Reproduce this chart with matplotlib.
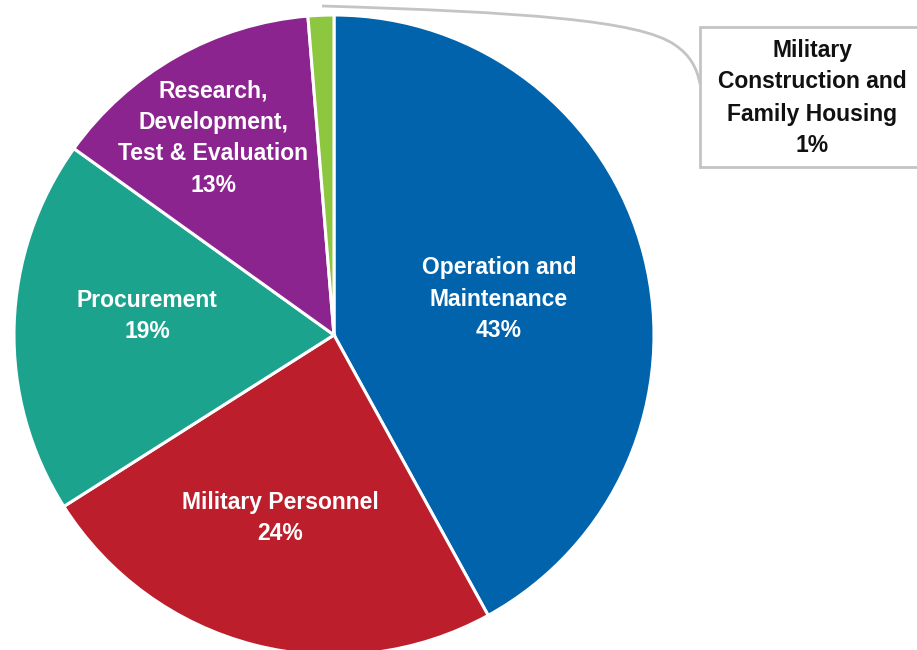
import matplotlib
matplotlib.use("Agg")
import matplotlib.pyplot as plt
from matplotlib.path import Path
from matplotlib.patches import PathPatch, Rectangle

categories = ["Operation and\nMaintenance", "Military Personnel", "Procurement",
              "Research,\nDevelopment,\nTest & Evaluation",
              "Military\nConstruction and\nFamily Housing"]
values = [42.0, 24.0, 18.9, 13.8, 1.3]
pct_labels = ["43%", "24%", "19%", "13%", "1%"]
colors = ["#0063AC", "#BC1E2C", "#1CA38E", "#8C2490", "#8DC63F"]

FONT = ["Liberation Sans Narrow", "Liberation Sans", "DejaVu Sans"]

fig = plt.figure(figsize=(9.17, 6.5), dpi=100)
ax = fig.add_axes([0, 0, 1, 1])

cx, cy, r = 334, 650 - 335, 320
ax.pie(values, colors=colors, startangle=90, counterclock=False,
       center=(cx, cy), radius=r, frame=True,
       wedgeprops=dict(edgecolor="white", linewidth=2.2))
ax.set_xlim(0, 917)
ax.set_ylim(0, 650)
ax.set_aspect("equal")
ax.axis("off")

# in-slice labels (pixel positions of text centers)
label_pos = [(499, 299), (280, 518), (147, 316), (213, 138)]
for i, (x, y) in enumerate(label_pos):
    ax.text(x, 650 - y, categories[i] + "\n" + pct_labels[i], ha="center", va="center",
            color="white", fontsize=16.5, fontweight="bold", family=FONT,
            linespacing=1.48)

# callout box
ax.add_patch(Rectangle((700, 650 - 167), 230, 140, facecolor="white",
                       edgecolor="#C4C4C4", linewidth=2, clip_on=False))
ax.text(812, 650 - 98, categories[4] + "\n" + pct_labels[4], ha="center", va="center",
        color="#111111", fontsize=16.5, fontweight="bold", family=FONT, linespacing=1.5)

# leader line
verts = [(322, 650 - 6), (520, 650 - 12), (640, 650 - 20), (675, 650 - 45),
         (690, 650 - 55), (697, 650 - 68), (700, 650 - 84)]
codes = [Path.MOVETO, Path.CURVE4, Path.CURVE4, Path.CURVE4,
         Path.CURVE4, Path.CURVE4, Path.CURVE4]
ax.add_patch(PathPatch(Path(verts, codes), facecolor="none", edgecolor="#C4C4C4", linewidth=2))

fig.savefig("out.png", dpi=100)
